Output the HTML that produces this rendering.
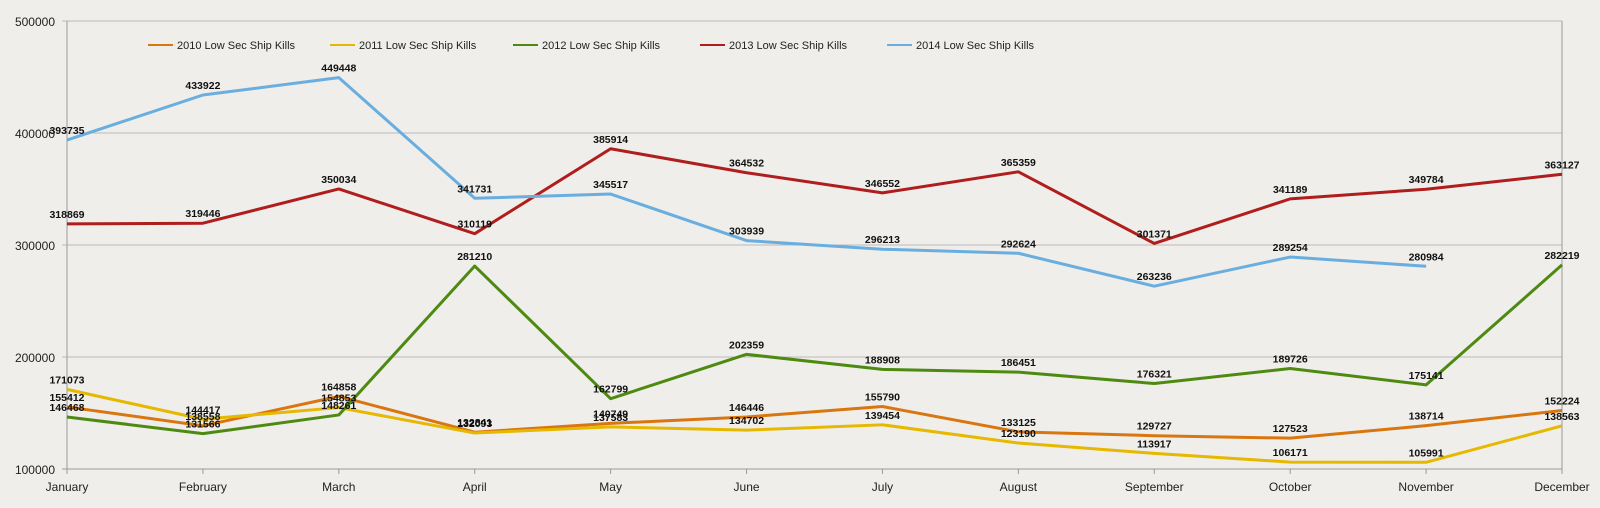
<!DOCTYPE html>
<html><head><meta charset="utf-8"><style>
html,body{margin:0;padding:0;background:#efeeea;}
svg{display:block;font-family:"Liberation Sans",sans-serif;}
</style></head><body>
<svg id="chart" width="1600" height="508"></svg>
<script>
const months=["January","February","March","April","May","June","July","August","September","October","November","December"];
const yTicks=[100000,200000,300000,400000,500000];
const seriesNames=["2010 Low Sec Ship Kills","2011 Low Sec Ship Kills","2012 Low Sec Ship Kills","2013 Low Sec Ship Kills","2014 Low Sec Ship Kills"];
const s2010=[155412,138558,164858,132841,140749,146446,155790,133125,129727,127523,138714,152224];
const s2011=[171073,144417,154853,132093,137583,134702,139454,123190,113917,106171,105991,138563];
const s2012=[146468,131566,148261,281210,162799,202359,188908,186451,176321,189726,175141,282219];
const s2013=[318869,319446,350034,310119,385914,364532,346552,365359,301371,341189,349784,363127];
const s2014=[393735,433922,449448,341731,345517,303939,296213,292624,263236,289254,280984];
const colors=["#d9760f","#e6b800","#4e8a12","#b01d1d","#6aaee0"];
const NS="http://www.w3.org/2000/svg";
const svg=document.getElementById('chart');
const x0=67,x1=1562,yBase=469,pxPer=112/100000;
const xs=i=>x0+i*(x1-x0)/11;
const ys=v=>yBase-(v-100000)*pxPer;
function mk(t,a){const e=document.createElementNS(NS,t);for(const k in a)e.setAttribute(k,a[k]);svg.appendChild(e);return e;}
yTicks.forEach(v=>{
  const g=mk('line',{x1:x0-5,x2:x1,y1:ys(v),y2:ys(v),stroke:v===100000?'#999':'#bbb','stroke-width':1});
  
  
  const t=mk('text',{x:x0-12,y:ys(v)+5,'text-anchor':'end','font-size':12,fill:'#222'});
  t.textContent=v;
  
  
});
const ax=mk('line',{x1:x0,x2:x0,y1:ys(500000),y2:yBase+4,stroke:'#999'});


const rb=mk('line',{x1:x1,x2:x1,y1:ys(500000),y2:yBase+4,stroke:'#999'});


months.forEach((m,i)=>{
  const tk=mk('line',{x1:xs(i),x2:xs(i),y1:yBase,y2:yBase+5,stroke:'#999'});
  
  
  const t=mk('text',{x:xs(i),y:yBase+22,'text-anchor':'middle','font-size':12,fill:'#222'});
  t.textContent=m;
  
  
});
const all=[s2010,s2011,s2012,s2013,s2014];
all.forEach((s,k)=>{
  const p=mk('polyline',{points:s.map((v,i)=>xs(i)+','+ys(v)).join(' '),fill:'none',stroke:colors[k],'stroke-width':3,'stroke-linejoin':'round'});
  
  
});
all.forEach((s,k)=>{
  s.forEach((v,i)=>{
    const t=mk('text',{x:xs(i),y:ys(v)-6,'text-anchor':'middle','font-size':10.5,'font-weight':'bold',fill:'#111'});
    t.textContent=v;
    
    
  });
});
const lx=[148,330,513,700,887];
seriesNames.forEach((n,k)=>{
  const l=mk('line',{x1:lx[k],x2:lx[k]+25,y1:45,y2:45,stroke:colors[k],'stroke-width':2});
  
  
  const t=mk('text',{x:lx[k]+29,y:49,'font-size':11,fill:'#222'});
  t.textContent=n;
  
  
});
</script>
</body></html>
